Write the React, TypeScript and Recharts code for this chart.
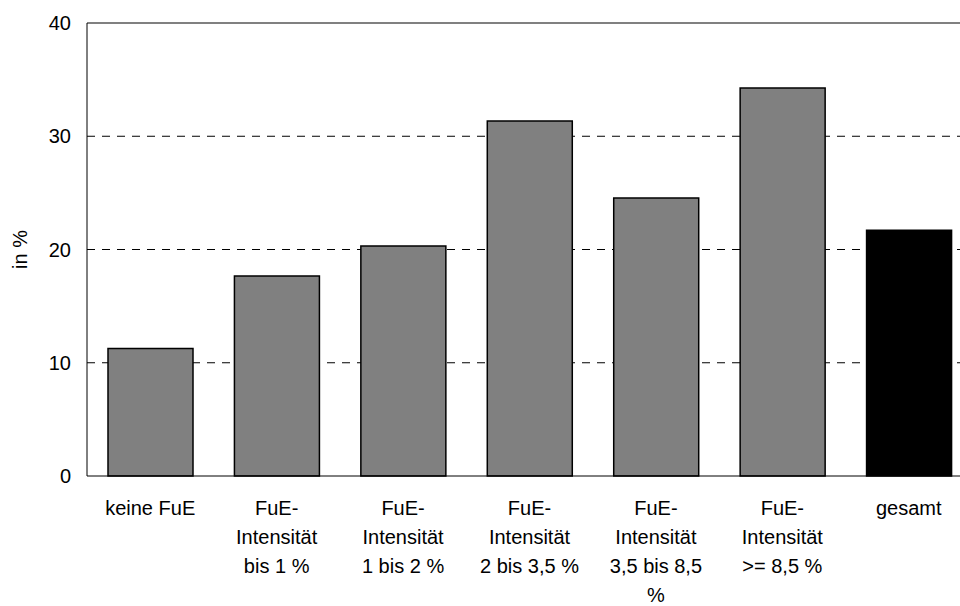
import { BarChart, Bar, XAxis, YAxis, CartesianGrid, ReferenceLine, Cell } from 'recharts'

// Anteil in % je FuE-Intensitätsklasse
const categories = ['keine FuE', 'bis 1 %', '1 bis 2 %', '2 bis 3,5 %', '3,5 bis 8,5 %', '>= 8,5 %', 'gesamt']
const tickLines = [
  ['keine FuE'],
  ['FuE-', 'Intensität', 'bis 1 %'],
  ['FuE-', 'Intensität', '1 bis 2 %'],
  ['FuE-', 'Intensität', '2 bis 3,5 %'],
  ['FuE-', 'Intensität', '3,5 bis 8,5', '%'],
  ['FuE-', 'Intensität', '>= 8,5 %'],
  ['gesamt'],
]
const values = [11.25, 17.65, 20.3, 31.35, 24.55, 34.25, 21.7]
const yTicks = [0, 10, 20, 30, 40]
const gridValues = [10, 20, 30]

const data = categories.map((c, i) => ({ name: c, value: values[i] }))

const FONT = '"Liberation Sans", Arial, sans-serif'

function CategoryTick({ x, y, index }) {
  const lines = tickLines[index] || []
  return (
    <text x={x} y={y} textAnchor="middle" fontFamily={FONT} fontSize={20} fill="#000">
      {lines.map((l, i) => (
        <tspan key={i} x={x} dy={i === 0 ? 39 : 29}>{l}</tspan>
      ))}
    </text>
  )
}

function YLabel({ viewBox }) {
  const cx = viewBox.x + 20
  const cy = viewBox.y + viewBox.height / 2
  return (
    <text x={cx} y={cy} transform={`rotate(-90 ${cx} ${cy})`} textAnchor="middle" dominantBaseline="central" fontFamily={FONT} fontSize={20} fill="#000">
      in %
    </text>
  )
}

export default function App() {
  return (
    <div style={{ position: 'absolute', left: 0, top: 0, width: 960, height: 606, overflow: 'hidden', background: '#fff' }}>
      <BarChart width={972} height={606} data={data} margin={{ top: 23, right: 0, bottom: 0, left: 0 }}>
        <CartesianGrid vertical={false} horizontalValues={gridValues} stroke="#000" strokeDasharray="8 7" />
        <XAxis dataKey="name" height={130} interval={0} tickLine={false} tickSize={0} tickMargin={0} stroke="#000" tick={<CategoryTick />} />
        <YAxis width={87} domain={[0, 40]} ticks={yTicks} tickLine={false} tickSize={0} tickMargin={16} stroke="#000" tick={{ fill: '#000', fontSize: 20, fontFamily: FONT }} label={<YLabel />} />
        <ReferenceLine y={40} stroke="#808080" strokeWidth={2} />
        <Bar dataKey="value" barSize={85} stroke="#000" strokeWidth={1.5} isAnimationActive={false}>
          {data.map((d, i) => (
            <Cell key={i} fill={i === data.length - 1 ? '#000' : '#808080'} />
          ))}
        </Bar>
      </BarChart>
    </div>
  )
}
